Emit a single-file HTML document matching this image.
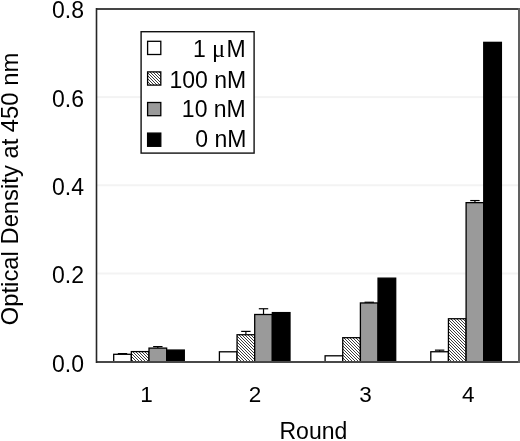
<!DOCTYPE html><html><head><meta charset="utf-8"><style>html,body{margin:0;padding:0;background:#fff;}svg{display:block;}text{font-family:"Liberation Sans",Arial,Helvetica,sans-serif;fill:#000;}</style></head><body>
<svg width="520" height="441" viewBox="0 0 520 441">
<rect width="520" height="441" fill="#fff"/>
<rect x="96.6" y="272.50" width="422.00" height="2" fill="#f3f3f3"/>
<rect x="96.6" y="184.30" width="422.00" height="2" fill="#f3f3f3"/>
<rect x="96.6" y="96.10" width="422.00" height="2" fill="#f3f3f3"/>
<line x1="122.53" y1="353.60" x2="122.53" y2="354.30" stroke="#000" stroke-width="1.2"/>
<line x1="117.83" y1="353.60" x2="127.23" y2="353.60" stroke="#000" stroke-width="1.2"/>
<rect x="113.70" y="354.30" width="17.65" height="7.40" fill="#ffffff" stroke="#000" stroke-width="1.3"/>
<clipPath id="c1"><rect x="131.35" y="351.60" width="17.65" height="10.10"/></clipPath>
<rect x="131.35" y="351.60" width="17.65" height="10.10" fill="#fff"/>
<g clip-path="url(#c1)"><path d="M115.60 349.60L129.70 363.70M118.60 349.60L132.70 363.70M121.60 349.60L135.70 363.70M124.60 349.60L138.70 363.70M127.60 349.60L141.70 363.70M130.60 349.60L144.70 363.70M133.60 349.60L147.70 363.70M136.60 349.60L150.70 363.70M139.60 349.60L153.70 363.70M142.60 349.60L156.70 363.70M145.60 349.60L159.70 363.70M148.60 349.60L162.70 363.70" stroke="#3c3c3c" stroke-width="1.0" fill="none"/></g>
<rect x="131.35" y="351.60" width="17.65" height="10.10" fill="none" stroke="#000" stroke-width="1.3"/>
<line x1="157.82" y1="346.60" x2="157.82" y2="348.10" stroke="#000" stroke-width="1.2"/>
<line x1="153.12" y1="346.60" x2="162.52" y2="346.60" stroke="#000" stroke-width="1.2"/>
<rect x="149.00" y="348.10" width="17.65" height="13.60" fill="#9a9a9a" stroke="#000" stroke-width="1.3"/>
<rect x="166.65" y="350.05" width="17.65" height="11.65" fill="#000000" stroke="#000" stroke-width="1.3"/>
<rect x="219.40" y="351.80" width="17.65" height="9.90" fill="#ffffff" stroke="#000" stroke-width="1.3"/>
<line x1="245.88" y1="331.40" x2="245.88" y2="334.75" stroke="#000" stroke-width="1.2"/>
<line x1="241.18" y1="331.40" x2="250.57" y2="331.40" stroke="#000" stroke-width="1.2"/>
<clipPath id="c2"><rect x="237.05" y="334.75" width="17.65" height="26.95"/></clipPath>
<rect x="237.05" y="334.75" width="17.65" height="26.95" fill="#fff"/>
<g clip-path="url(#c2)"><path d="M203.75 332.75L234.70 363.70M206.75 332.75L237.70 363.70M209.75 332.75L240.70 363.70M212.75 332.75L243.70 363.70M215.75 332.75L246.70 363.70M218.75 332.75L249.70 363.70M221.75 332.75L252.70 363.70M224.75 332.75L255.70 363.70M227.75 332.75L258.70 363.70M230.75 332.75L261.70 363.70M233.75 332.75L264.70 363.70M236.75 332.75L267.70 363.70M239.75 332.75L270.70 363.70M242.75 332.75L273.70 363.70M245.75 332.75L276.70 363.70M248.75 332.75L279.70 363.70M251.75 332.75L282.70 363.70M254.75 332.75L285.70 363.70" stroke="#3c3c3c" stroke-width="1.0" fill="none"/></g>
<rect x="237.05" y="334.75" width="17.65" height="26.95" fill="none" stroke="#000" stroke-width="1.3"/>
<line x1="263.52" y1="308.75" x2="263.52" y2="314.50" stroke="#000" stroke-width="1.2"/>
<line x1="258.82" y1="308.75" x2="268.22" y2="308.75" stroke="#000" stroke-width="1.2"/>
<rect x="254.70" y="314.50" width="17.65" height="47.20" fill="#9a9a9a" stroke="#000" stroke-width="1.3"/>
<rect x="272.35" y="312.60" width="17.65" height="49.10" fill="#000000" stroke="#000" stroke-width="1.3"/>
<rect x="325.10" y="355.80" width="17.65" height="5.90" fill="#ffffff" stroke="#000" stroke-width="1.3"/>
<clipPath id="c3"><rect x="342.75" y="337.70" width="17.65" height="24.00"/></clipPath>
<rect x="342.75" y="337.70" width="17.65" height="24.00" fill="#fff"/>
<g clip-path="url(#c3)"><path d="M311.70 335.70L339.70 363.70M314.70 335.70L342.70 363.70M317.70 335.70L345.70 363.70M320.70 335.70L348.70 363.70M323.70 335.70L351.70 363.70M326.70 335.70L354.70 363.70M329.70 335.70L357.70 363.70M332.70 335.70L360.70 363.70M335.70 335.70L363.70 363.70M338.70 335.70L366.70 363.70M341.70 335.70L369.70 363.70M344.70 335.70L372.70 363.70M347.70 335.70L375.70 363.70M350.70 335.70L378.70 363.70M353.70 335.70L381.70 363.70M356.70 335.70L384.70 363.70M359.70 335.70L387.70 363.70" stroke="#3c3c3c" stroke-width="1.0" fill="none"/></g>
<rect x="342.75" y="337.70" width="17.65" height="24.00" fill="none" stroke="#000" stroke-width="1.3"/>
<line x1="369.23" y1="302.25" x2="369.23" y2="302.95" stroke="#000" stroke-width="1.2"/>
<line x1="364.53" y1="302.25" x2="373.93" y2="302.25" stroke="#000" stroke-width="1.2"/>
<rect x="360.40" y="302.95" width="17.65" height="58.75" fill="#9a9a9a" stroke="#000" stroke-width="1.3"/>
<rect x="378.05" y="278.15" width="17.65" height="83.55" fill="#000000" stroke="#000" stroke-width="1.3"/>
<line x1="439.62" y1="350.15" x2="439.62" y2="351.75" stroke="#000" stroke-width="1.2"/>
<line x1="434.93" y1="350.15" x2="444.32" y2="350.15" stroke="#000" stroke-width="1.2"/>
<rect x="430.80" y="351.75" width="17.65" height="9.95" fill="#ffffff" stroke="#000" stroke-width="1.3"/>
<clipPath id="c4"><rect x="448.45" y="318.75" width="17.65" height="42.95"/></clipPath>
<rect x="448.45" y="318.75" width="17.65" height="42.95" fill="#fff"/>
<g clip-path="url(#c4)"><path d="M397.75 316.75L444.70 363.70M400.75 316.75L447.70 363.70M403.75 316.75L450.70 363.70M406.75 316.75L453.70 363.70M409.75 316.75L456.70 363.70M412.75 316.75L459.70 363.70M415.75 316.75L462.70 363.70M418.75 316.75L465.70 363.70M421.75 316.75L468.70 363.70M424.75 316.75L471.70 363.70M427.75 316.75L474.70 363.70M430.75 316.75L477.70 363.70M433.75 316.75L480.70 363.70M436.75 316.75L483.70 363.70M439.75 316.75L486.70 363.70M442.75 316.75L489.70 363.70M445.75 316.75L492.70 363.70M448.75 316.75L495.70 363.70M451.75 316.75L498.70 363.70M454.75 316.75L501.70 363.70M457.75 316.75L504.70 363.70M460.75 316.75L507.70 363.70M463.75 316.75L510.70 363.70M466.75 316.75L513.70 363.70" stroke="#3c3c3c" stroke-width="1.0" fill="none"/></g>
<rect x="448.45" y="318.75" width="17.65" height="42.95" fill="none" stroke="#000" stroke-width="1.3"/>
<line x1="474.93" y1="200.55" x2="474.93" y2="202.65" stroke="#000" stroke-width="1.2"/>
<line x1="470.23" y1="200.55" x2="479.62" y2="200.55" stroke="#000" stroke-width="1.2"/>
<rect x="466.10" y="202.65" width="17.65" height="159.05" fill="#9a9a9a" stroke="#000" stroke-width="1.3"/>
<rect x="483.75" y="42.35" width="17.65" height="319.35" fill="#000000" stroke="#000" stroke-width="1.3"/>
<rect x="96" y="8" width="424" height="2" fill="#454545"/>
<rect x="96" y="361" width="422" height="2" fill="#484848"/>
<rect x="95.7" y="8" width="1.6" height="355" fill="#262626"/>
<rect x="518" y="8" width="2" height="355" fill="#606060"/>
<text x="84" y="371.6" font-size="23.0" text-anchor="end">0.0</text>
<text x="84" y="283.3" font-size="23.0" text-anchor="end">0.2</text>
<text x="84" y="194.8" font-size="23.0" text-anchor="end">0.4</text>
<text x="84" y="106.5" font-size="23.0" text-anchor="end">0.6</text>
<text x="84" y="17.7" font-size="23.0" text-anchor="end">0.8</text>
<text x="146.4" y="402" font-size="22.5" text-anchor="middle">1</text>
<text x="255" y="402" font-size="22.5" text-anchor="middle">2</text>
<text x="365.4" y="402" font-size="22.5" text-anchor="middle">3</text>
<text x="468.2" y="402" font-size="22.5" text-anchor="middle">4</text>
<text x="313.4" y="439.4" font-size="23.0" text-anchor="middle">Round</text>
<text transform="translate(18.2,189.0) rotate(-90)" font-size="23.8" text-anchor="middle">Optical Density at 450 nm</text>
<rect x="141.1" y="31.7" width="113" height="121.4" fill="#fff" stroke="#111" stroke-width="1.4"/>
<rect x="147.6" y="41.30" width="13.2" height="13.2" fill="#ffffff" stroke="#000" stroke-width="1.3"/>
<text y="56.50" font-size="23.0"><tspan x="193.0">1</tspan><tspan x="212.1" font-size="24.5" font-family="Liberation Serif,Times New Roman,serif">μ</tspan><tspan x="226.44">M</tspan></text>
<clipPath id="c5"><rect x="147.60" y="71.90" width="13.20" height="13.20"/></clipPath>
<rect x="147.60" y="71.90" width="13.20" height="13.20" fill="#fff"/>
<g clip-path="url(#c5)"><path d="M126.90 69.90L144.10 87.10M129.90 69.90L147.10 87.10M132.90 69.90L150.10 87.10M135.90 69.90L153.10 87.10M138.90 69.90L156.10 87.10M141.90 69.90L159.10 87.10M144.90 69.90L162.10 87.10M147.90 69.90L165.10 87.10M150.90 69.90L168.10 87.10M153.90 69.90L171.10 87.10M156.90 69.90L174.10 87.10M159.90 69.90L177.10 87.10" stroke="#3c3c3c" stroke-width="1.0" fill="none"/></g>
<rect x="147.6" y="71.90" width="13.2" height="13.2" fill="none" stroke="#000" stroke-width="1.3"/>
<text x="246.10" y="88.00" font-size="23.0" text-anchor="end">100 nM</text>
<rect x="147.6" y="102.50" width="13.2" height="13.2" fill="#9a9a9a" stroke="#000" stroke-width="1.3"/>
<text x="245.80" y="117.00" font-size="23.0" text-anchor="end">10 nM</text>
<rect x="147.6" y="133.10" width="13.2" height="13.2" fill="#000000" stroke="#000" stroke-width="1.3"/>
<text x="246.50" y="147.40" font-size="23.0" text-anchor="end">0 nM</text>
</svg></body></html>
